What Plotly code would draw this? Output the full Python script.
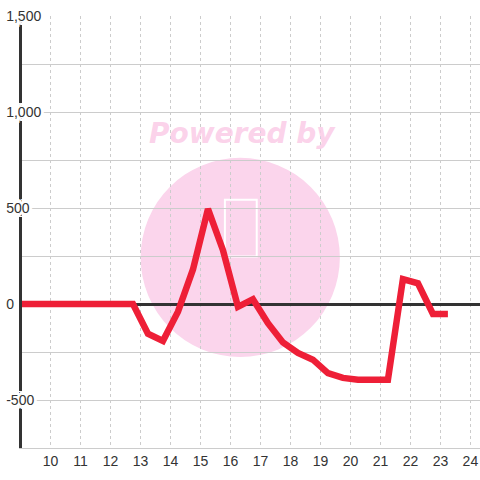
import plotly.graph_objects as go

# ---- data ----
hours = [8.75, 9.25, 9.75, 10.25, 10.75, 11.25, 11.75, 12.25, 12.75, 13.25,
         13.75, 14.25, 14.75, 15.25, 15.75, 16.25, 16.75, 17.25, 17.75, 18.25,
         18.75, 19.25, 19.75, 20.25, 20.75, 21.25, 21.75, 22.25, 22.75, 23.25]
values = [0, 0, 0, 0, 0, 0, 0, 0, 0, -155,
          -192, -40, 180, 495, 280, -15, 25, -100, -200, -255,
          -290, -360, -385, -395, -395, -395, 130, 108, -52, -52]

x_tickvals = list(range(10, 25))
x_ticktext = [str(v) for v in x_tickvals]
y_tickvals = [-750, -500, -250, 0, 250, 500, 750, 1000, 1250, 1500]
y_ticktext = ["", "-500", "", "0", "", "500", "", "1,000", "", "1,500"]

FONT = "Liberation Sans, Arial, sans-serif"
GRID = "#cccccc"
TXT = "#333333"

fig = go.Figure()
fig.add_trace(go.Scatter(
    x=hours, y=values, mode="lines",
    line=dict(color="#EE1F37", width=6.5),
    hoverinfo="skip", showlegend=False,
))

# watermark (background decoration)
fig.add_shape(type="circle", xref="paper", yref="paper",
              x0=0.259, x1=0.694, y0=0.2106, y1=0.6717,
              fillcolor="#FBD5EC", line=dict(width=0), layer="below")
fig.add_shape(type="rect", xref="paper", yref="paper",
              x0=0.443, x1=0.5125, y0=0.4435, y1=0.5746,
              fillcolor="rgba(0,0,0,0)", line=dict(color="white", width=2),
              layer="below")
fig.add_annotation(text="<b><i>Powered by</i></b>", xref="paper", yref="paper",
                   x=0.4814, y=0.727, xanchor="center", yanchor="middle",
                   showarrow=False,
                   font=dict(family="DejaVu Sans", size=28,
                             color="rgba(251,205,232,0.9)"))

shadow = ("white 1px 0 0, white -1px 0 0, white 0 1px 0, white 0 -1px 0, "
          "white 2px 2px 0, white -2px -2px 0, white 2px -2px 0, white -2px 2px 0, "
          "white 3px 0 0, white -3px 0 0, white 0 3px 0, white 0 -3px 0, "
          "white 0 4px 0, white 0 -4px 0, white 3px 4px 0, white -3px -4px 0")

fig.update_layout(
    width=480, height=480,
    margin=dict(l=22, r=0, t=16, b=32),
    paper_bgcolor="white", plot_bgcolor="white",
    font=dict(family=FONT, size=14, color=TXT),
    xaxis=dict(
        range=[9.05, 24.32], tickmode="array",
        tickvals=x_tickvals, ticktext=x_ticktext,
        showgrid=True, gridcolor=GRID, griddash="3px,3px", gridwidth=1,
        showline=True, linecolor=GRID, linewidth=1,
        zeroline=False, ticks="",
        tickfont=dict(family=FONT, size=14, color=TXT),
    ),
    yaxis=dict(
        range=[-750, 1500], tickmode="array",
        tickvals=y_tickvals, ticktext=y_ticktext,
        showgrid=True, gridcolor=GRID, gridwidth=1,
        zeroline=True, zerolinecolor="#333333", zerolinewidth=3,
        showline=True, linecolor="#333333", linewidth=3,
        ticks="", ticklabelposition="inside", ticklabelstandoff=-16,
        ticklabeloverflow="allow",
        tickfont=dict(family=FONT, size=14, color=TXT, shadow=shadow),
    ),
)

fig.write_html("out.html",
               config={"displayModeBar": False},
               post_script="document.body.style.margin='0px';")
